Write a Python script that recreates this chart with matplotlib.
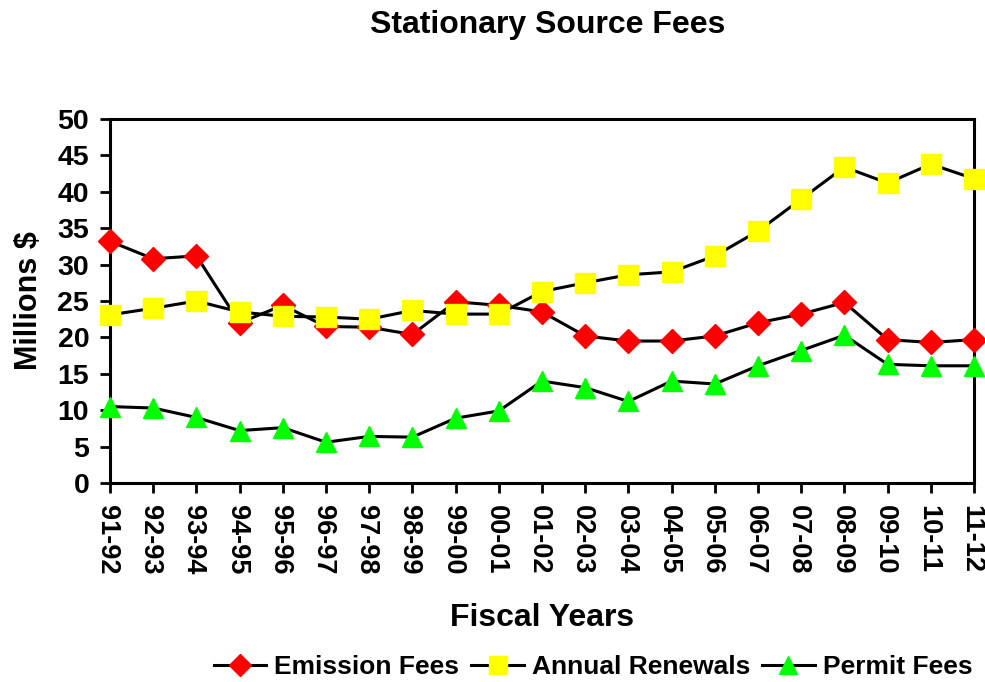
import matplotlib
matplotlib.use("Agg")
import matplotlib.pyplot as plt
import matplotlib.transforms as mtransforms

plt.rcParams['font.family'] = ['Liberation Sans', 'DejaVu Sans']
plt.rcParams['font.weight'] = 'bold'

years = ['91-92', '92-93', '93-94', '94-95', '95-96', '96-97', '97-98', '98-99',
         '99-00', '00-01', '01-02', '02-03', '03-04', '04-05', '05-06', '06-07',
         '07-08', '08-09', '09-10', '10-11', '11-12']

emission_fees = [33.2, 30.8, 31.2, 22.0, 24.4, 21.5, 21.4, 20.4, 24.9, 24.4, 23.5,
                 20.2, 19.5, 19.5, 20.2, 22.0, 23.2, 24.8, 19.7, 19.3, 19.7]
annual_renewals = [23.1, 24.0, 25.0, 23.5, 22.9, 22.8, 22.5, 23.7, 23.2, 23.2, 26.3,
                   27.5, 28.6, 29.0, 31.2, 34.6, 39.0, 43.4, 41.2, 43.8, 41.8]
permit_fees = [10.5, 10.3, 9.0, 7.2, 7.6, 5.6, 6.4, 6.3, 8.9, 9.9, 14.0,
               13.1, 11.2, 14.0, 13.6, 16.1, 18.2, 20.3, 16.3, 16.1, 16.1]

fig = plt.figure(figsize=(9.85, 6.82), dpi=100)
ax = fig.add_axes([110 / 985, 1 - 483 / 682, 864 / 985, 364 / 682])

x = range(len(years))
ax.plot(x, emission_fees, color='black', lw=2.2, marker='D', ms=12,
        mfc='#ff0000', mec='#ff0000', label='Emission Fees', clip_on=False, zorder=3)
ax.plot(x, annual_renewals, color='black', lw=2.2, marker='s', ms=14,
        mfc='#ffff00', mec='#ffff00', label='Annual Renewals', clip_on=False, zorder=3)
ax.plot(x, permit_fees, color='black', lw=2.2, marker='^', ms=14,
        mfc='#00ff00', mec='#00ff00', label='Permit Fees', clip_on=False, zorder=3)

ax.set_xlim(0, len(years) - 1)
ax.set_ylim(0, 50)
ax.set_yticks(range(0, 51, 5))
ax.set_xticks(list(x))
ax.set_xticklabels(years, rotation=-90, fontsize=19.5, fontweight='bold')
ax.tick_params(axis='y', labelsize=20.5, direction='out', length=7, width=2, pad=8)
ax.tick_params(axis='x', direction='out', length=7, width=2, pad=9)
for s in ax.spines.values():
    s.set_linewidth(2.2)

# rotated labels sit right of their ticks because of the descent; nudge them back
shift = mtransforms.ScaledTranslation(-3 / 100, 0, fig.dpi_scale_trans)
for lbl in ax.get_xticklabels():
    lbl.set_transform(lbl.get_transform() + shift)

ax.set_ylabel('Millions $', fontsize=22, fontweight='bold', labelpad=10)
ax.set_xlabel('Fiscal Years', fontsize=23, fontweight='bold', labelpad=20)
fig.text(548 / 985, 1 - 25 / 682, 'Stationary Source Fees', ha='center',
         va='center', fontsize=23, fontweight='bold')

fig.legend(loc='center', bbox_to_anchor=(593 / 985, 1 - 667 / 682), ncol=3,
           frameon=False, handlelength=2.0, columnspacing=0.45,
           handletextpad=0.3, markerscale=0.9,
           prop={'weight': 'bold', 'size': 19})

fig.savefig('out.png', dpi=100)
